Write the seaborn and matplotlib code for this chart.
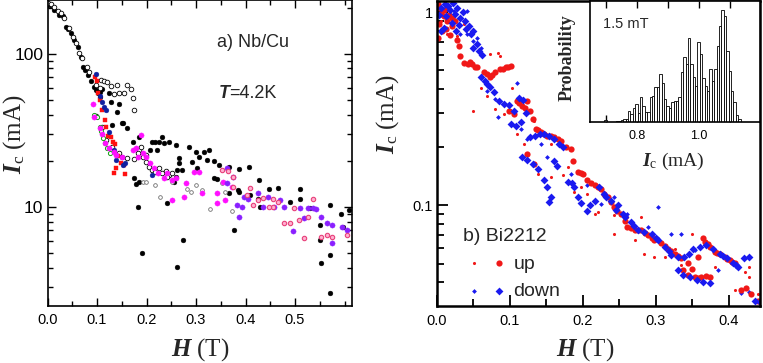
import numpy as np
import pandas as pd
import matplotlib
matplotlib.use("Agg")
import matplotlib.pyplot as plt
import seaborn as sns
from matplotlib.ticker import FixedLocator, FuncFormatter, NullFormatter
from matplotlib.legend_handler import HandlerTuple

sns.set_style("ticks")
plt.rcParams['font.family'] = ['Liberation Sans', 'DejaVu Sans']
plt.rcParams['mathtext.fontset'] = 'custom'
plt.rcParams['mathtext.rm'] = 'Liberation Serif'
plt.rcParams['mathtext.it'] = 'Liberation Serif:italic'
plt.rcParams['mathtext.bf'] = 'Liberation Serif:bold'
plt.rcParams['mathtext.bfit'] = 'Liberation Serif:italic:bold'

# ---------------- a) Nb/Cu ----------------
nb_black_H = [0.004, 0.014, 0.024, 0.031, 0.038, 0.041, 0.048, 0.054, 0.061, 0.068, 0.071, 0.076,
              0.081, 0.088, 0.094, 0.098, 0.101, 0.105, 0.111, 0.105, 0.125, 0.128, 0.145, 0.141,
              0.151, 0.131, 0.161, 0.153, 0.172, 0.185, 0.212, 0.225, 0.235, 0.246, 0.260, 0.222,
              0.208, 0.265, 0.299, 0.316, 0.306, 0.326, 0.175, 0.185, 0.178, 0.262, 0.272, 0.259,
              0.255, 0.336, 0.322, 0.285, 0.336, 0.346, 0.366, 0.386, 0.407, 0.342, 0.387, 0.385,
              0.427, 0.448, 0.366, 0.409, 0.376, 0.490, 0.510, 0.510, 0.273, 0.430, 0.530, 0.550,
              0.550, 0.552, 0.570, 0.571, 0.571, 0.592, 0.596, 0.610, 0.182, 0.190, 0.262, 0.218,
              0.232, 0.242, 0.265, 0.292, 0.302, 0.466, 0.426]
nb_black_I = [208, 193, 179, 175, 150, 144, 136, 123, 111, 95.6, 82, 78.2,
              73, 66, 60.8, 58, 55.6, 56.5, 59, 52, 55, 48.6, 47, 41.8,
              35.1, 34.2, 32.6, 35.1, 26.6, 28.7, 26.6, 26.6, 25.9, 26.6, 25.3, 23.4,
              23.4, 20.7, 22.9, 22.9, 21.2, 23.4, 15.3, 14.6, 14.1, 17.4, 17.4, 15.7,
              14.6, 15.3, 20.2, 24.7, 19.9, 18.7, 18.2, 17.6, 18.2, 15.2, 12.4, 12.9,
              14.9, 13.1, 12.2, 12.0, 7.05, 10.8, 13.1, 11.2, 6.05, 10.0, 9.75, 7.6,
              6.05, 4.27, 4.83, 10.3, 2.73, 8.9, 7.4, 9.5, 10.0, 4.95, 4.05, 26.6,
              28.7, 10.5, 19.2, 19.7, 17.8, 13.2, 11.3]

nb_open_H = [0.001, 0.007, 0.014, 0.021, 0.027, 0.034, 0.044, 0.051, 0.058, 0.064, 0.070, 0.079,
             0.084, 0.108, 0.115, 0.121, 0.128, 0.141, 0.135, 0.145, 0.155, 0.161, 0.168, 0.173,
             0.175, 0.105, 0.098, 0.098, 0.111, 0.119, 0.131, 0.145, 0.161, 0.175, 0.185, 0.192,
             0.198, 0.205, 0.212, 0.218, 0.225, 0.232, 0.239, 0.246, 0.252, 0.242, 0.188, 0.182,
             0.198]
nb_open_I = [215, 211, 203, 191, 183, 170, 147, 129, 117, 101, 93, 82,
             76, 67, 66, 65, 61.5, 62, 54.5, 55, 55.6, 62, 58.5, 51,
             43, 60, 62, 39, 33, 27.3, 24.7, 22.3, 20.7, 20.4, 23.4, 21.2,
             19.7, 18.2, 17.4, 16.9, 17.8, 16.5, 17.2, 16.1, 16.5, 15.7, 24.7, 22.3,
             21.8]

nb_grey_H = [0.218, 0.228, 0.282, 0.289, 0.299, 0.312, 0.329, 0.373, 0.192, 0.198, 0.352, 0.359, 0.252]
nb_grey_I = [13.9, 11.6, 13.0, 12.5, 13.9, 12.8, 9.6, 9.4, 14.6, 14.4, 14.2, 12.5, 14.6]

nb_green_H = [0.094, 0.099, 0.105, 0.108, 0.113, 0.117, 0.121, 0.126]
nb_green_I = [39.8, 38.4, 33, 31.3, 28, 25.9, 24, 22.3]

nb_red_H = [0.096, 0.099, 0.102, 0.105, 0.111, 0.117, 0.119, 0.122, 0.129, 0.133, 0.136, 0.142,
            0.149, 0.155, 0.138, 0.157, 0.135]
nb_red_I = [70.1, 66, 55, 50, 43, 36.8, 33, 29, 28.7, 26.6, 25.6, 21.4,
            19.2, 18.7, 17.8, 16.3, 16.7]

nb_blue_H = [0.098, 0.106, 0.111, 0.115, 0.119, 0.125, 0.135, 0.139, 0.151, 0.157, 0.153, 0.212]
nb_blue_I = [74, 52.8, 48.6, 45, 42.5, 30.9, 23.4, 20.2, 21.2, 19.4, 18.7, 16.1]

nb_magenta_H = [0.092, 0.094, 0.105, 0.110, 0.117, 0.125, 0.135, 0.139, 0.150, 0.178, 0.188, 0.192,
                0.198, 0.208, 0.215, 0.224, 0.235, 0.242, 0.252, 0.260, 0.279, 0.295, 0.306, 0.252,
                0.275, 0.312, 0.342, 0.354, 0.342, 0.358, 0.373, 0.182, 0.172]
nb_magenta_I = [47, 38.8, 32.5, 29.8, 25.9, 24, 22.9, 21.8, 21.2, 24, 29.4, 22.3,
                21.2, 19.2, 17.8, 16.5, 15.3, 16.7, 14.9, 15.3, 14.2, 16.9, 16.9, 11.1,
                11.6, 12.2, 12.2, 14.6, 10.5, 11.1, 13.5, 21.2, 23.4]

nb_purple_H = [0.362, 0.363, 0.374, 0.393, 0.386, 0.405, 0.426, 0.436, 0.446, 0.458, 0.470, 0.478,
               0.496, 0.510, 0.518, 0.527, 0.537, 0.543, 0.553, 0.564, 0.574, 0.575, 0.594, 0.604,
               0.396, 0.383]
nb_purple_I = [17.8, 14.2, 15.7, 9.9, 8.6, 11.2, 12.3, 9.9, 11.6, 9.9, 11.1, 10.0,
               6.9, 9.75, 8.4, 9.75, 9.75, 9.6, 8.6, 7.8, 7.6, 5.75, 7.4, 7.05,
               11.6, 10.3]

nb_pink_H = [0.352, 0.364, 0.375, 0.375, 0.403, 0.408, 0.436, 0.456, 0.466, 0.478, 0.490, 0.497,
             0.508, 0.518, 0.526, 0.537, 0.553, 0.564, 0.574, 0.604, 0.456, 0.416, 0.425, 0.447]
nb_pink_I = [17.4, 17.2, 15.7, 13.5, 11.9, 13.2, 11.4, 11.3, 10.8, 7.8, 7.8, 9.75,
             8.2, 6.2, 8.6, 11.2, 6.3, 6.5, 6.3, 6.5, 10.0, 10.3, 11.1, 10.0]

# ---------------- b) Bi2212 ----------------
bi_up_big_H = [0.002, 0.004, 0.009, 0.014, 0.021, 0.007, 0.030, 0.032, 0.037, 0.042, 0.048, 0.055,
               0.064, 0.080, 0.087, 0.094, 0.101, 0.073, 0.099, 0.106, 0.110, 0.117, 0.124, 0.128,
               0.132, 0.135, 0.142, 0.151, 0.161, 0.170, 0.177, 0.183, 0.193, 0.200, 0.206, 0.216,
               0.225, 0.234, 0.243, 0.252, 0.261, 0.271, 0.280, 0.289, 0.298, 0.307, 0.317, 0.326,
               0.335, 0.344, 0.358, 0.367, 0.374, 0.381, 0.388, 0.394, 0.401, 0.408, 0.337, 0.344,
               0.353, 0.362, 0.374, 0.417, 0.424, 0.440, 0.124, 0.133, 0.005, 0.014, 0.002, 0.010,
               0.016, 0.020, 0.003, 0.012, 0.025, 0.018,
               0.027, 0.045, 0.052, 0.068, 0.076, 0.090, 0.097, 0.113, 0.120, 0.138, 0.147, 0.156,
               0.166, 0.187, 0.197, 0.211, 0.221, 0.229, 0.238, 0.247, 0.257, 0.266, 0.276, 0.285,
               0.294, 0.312, 0.321, 0.330, 0.349, 0.365, 0.371, 0.384, 0.397, 0.404, 0.357, 0.368,
               0.430]
bi_up_big_I = [0.737, 1.05, 0.954, 0.899, 0.847, 0.798, 0.668, 0.593, 0.548, 0.537, 0.537, 0.517,
               0.487, 0.487, 0.506, 0.517, 0.523, 0.459, 0.309, 0.297, 0.348, 0.327, 0.348, 0.309,
               0.280, 0.249, 0.239, 0.229, 0.225, 0.216, 0.200, 0.196, 0.149, 0.146, 0.135, 0.127,
               0.122, 0.110, 0.098, 0.090, 0.0774, 0.0745, 0.0745, 0.0701, 0.0661, 0.0636, 0.0598, 0.0564,
               0.0532, 0.0501, 0.0543, 0.0646, 0.0611, 0.0576, 0.0564, 0.0543, 0.0521, 0.0501, 0.0462, 0.0435,
               0.0426, 0.0426, 0.0426, 0.0366, 0.0372, 0.0319, 0.185, 0.164, 0.973, 1.05, 1.10, 1.02,
               0.96, 0.93, 0.87, 0.82, 0.90, 0.76,
               0.72, 0.55, 0.52, 0.48, 0.47, 0.51, 0.52, 0.34, 0.32, 0.245, 0.235, 0.228,
               0.22, 0.17, 0.147, 0.13, 0.125, 0.115, 0.104, 0.094, 0.083, 0.076, 0.0745, 0.072,
               0.068, 0.062, 0.058, 0.055, 0.047, 0.068, 0.063, 0.057, 0.053, 0.051, 0.042, 0.043,
               0.035]

bi_up_small_H = [0.073, 0.083, 0.087, 0.103, 0.110, 0.119, 0.138, 0.156, 0.172, 0.188, 0.206, 0.220,
                 0.243, 0.261, 0.271, 0.284, 0.298, 0.312, 0.326, 0.335, 0.381, 0.408, 0.427, 0.427,
                 0.440, 0.005, 0.014, 0.028, 0.037, 0.060, 0.050, 0.069, 0.080, 0.092, 0.133, 0.156,
                 0.179, 0.197, 0.216, 0.243, 0.280, 0.349, 0.422]
bi_up_small_I = [0.605, 0.617, 0.593, 0.407, 0.234, 0.208, 0.146, 0.140, 0.143, 0.117, 0.115, 0.0926,
                 0.0889, 0.087, 0.0661, 0.0564, 0.0543, 0.0543, 0.0598, 0.0492, 0.0482, 0.0366, 0.0482, 0.0426,
                 0.0350, 0.899, 0.767, 0.752, 0.864, 0.407, 0.309, 0.369, 0.315, 0.297, 0.274, 0.208,
                 0.158, 0.125, 0.0903, 0.0715, 0.087, 0.0715, 0.0454]

bi_down_big_H = [0.005, 0.011, 0.018, 0.025, 0.032, 0.039, 0.044, 0.050, 0.009, 0.055, 0.060, 0.069,
                 0.078, 0.085, 0.092, 0.099, 0.106, 0.101, 0.108, 0.115, 0.128, 0.134, 0.141, 0.147,
                 0.154, 0.161, 0.167, 0.173, 0.117, 0.124, 0.131, 0.138, 0.147, 0.151, 0.156, 0.154,
                 0.179, 0.188, 0.197, 0.206, 0.216, 0.222, 0.229, 0.239, 0.248, 0.257, 0.266, 0.275,
                 0.284, 0.294, 0.303, 0.312, 0.321, 0.330, 0.339, 0.351, 0.360, 0.369, 0.378, 0.388,
                 0.397, 0.406, 0.413, 0.420, 0.427, 0.330, 0.337, 0.346, 0.356, 0.365, 0.374, 0.436,
                 0.443, 0.003, 0.015, 0.022, 0.028, 0.036, 0.020, 0.030, 0.046, 0.050,
                 0.057, 0.062, 0.066, 0.072, 0.112, 0.118, 0.122, 0.160, 0.165, 0.185, 0.193, 0.210,
                 0.232, 0.245, 0.255, 0.270, 0.300, 0.318, 0.345, 0.392, 0.410, 0.005, 0.012, 0.026,
                 0.040]
bi_down_big_I = [1.05, 1.10, 1.03, 0.973, 0.935, 0.899, 0.847, 0.798, 0.830, 0.681, 0.459, 0.424,
                 0.384, 0.348, 0.334, 0.331, 0.309, 0.264, 0.258, 0.269, 0.225, 0.229, 0.234, 0.234,
                 0.229, 0.221, 0.208, 0.200, 0.178, 0.171, 0.164, 0.155, 0.135, 0.125, 0.110, 0.104,
                 0.132, 0.125, 0.1025, 0.094, 0.106, 0.125, 0.115, 0.106, 0.100, 0.087, 0.082, 0.0745,
                 0.0730, 0.0715, 0.0661, 0.0611, 0.0553, 0.0543, 0.0543, 0.0598, 0.0611, 0.0622, 0.0598, 0.0564,
                 0.0532, 0.0501, 0.0482, 0.0532, 0.0543, 0.0462, 0.0435, 0.0425, 0.0412, 0.0404, 0.0396, 0.0319,
                 0.0315, 0.97, 1.07, 1.12, 1.05, 1.00, 0.88, 0.86, 0.767, 0.655,
                 0.63, 0.60, 0.44, 0.41, 0.36, 0.35, 0.30, 0.17, 0.16, 0.13, 0.11, 0.10,
                 0.11, 0.095, 0.09, 0.078, 0.068, 0.058, 0.056, 0.055, 0.049, 0.80, 0.95, 0.80,
                 0.82]

bi_down_small_H = [0.032, 0.041, 0.055, 0.060, 0.064, 0.069, 0.080, 0.083, 0.101, 0.110, 0.115, 0.124,
                   0.142, 0.151, 0.165, 0.183, 0.206, 0.225, 0.243, 0.261, 0.289, 0.303, 0.321, 0.335,
                   0.353, 0.385, 0.417, 0.427, 0.023, 0.041, 0.014, 0.050]
bi_down_small_I = [0.767, 0.767, 0.737, 0.655, 0.441, 0.392, 0.355, 0.285, 0.309, 0.432, 0.249, 0.221,
                   0.208, 0.178, 0.158, 0.146, 0.127, 0.102, 0.110, 0.0903, 0.0774, 0.098, 0.0715, 0.0715,
                   0.0587, 0.0462, 0.0351, 0.0358, 1.01, 1.01, 0.935, 0.709]

# inset histogram at 1.5 mT (bin heights, arbitrary units)
hist_start = 0.6945
hist_width = 0.0077
hist_heights = [0.5, 0, 0, 0, 0, 0.2, 0.4, 0.7, 0.8, 0.9, 3.2, 2.5, 4.3, 5.4, 2.7, 7.7, 4.7, 3.0,
                2.9, 7.6, 7.8, 10.5, 10.7, 14.5, 11.9, 7.0, 4.9, 4.3, 6.1, 6.2, 6.2, 7.5, 15.0, 19.7,
                17.5, 25.5, 17.5, 13.7, 11.0, 24.3, 20.5, 13.3, 11.0, 9.5, 16.0, 12.5, 16.0, 23.0, 29.0,
                33.8, 32.0, 21.5, 15.5, 9.5, 6.0, 2.0, 0.8]

red = '#f01818'
blue = '#1a1af0'

fig = plt.figure(figsize=(7.63, 3.63), dpi=100)
ax1 = fig.add_axes([0.0623, 0.157, 0.399, 0.843])
ax2 = fig.add_axes([0.5727, 0.157, 0.4233, 0.840])
axin = fig.add_axes([0.7733, 0.664, 0.2228, 0.333])

# panel a
sns.scatterplot(x=nb_black_H, y=nb_black_I, ax=ax1, s=12, marker='o', facecolor='black', edgecolor='black', linewidth=0.3, legend=False)
sns.scatterplot(x=nb_open_H, y=nb_open_I, ax=ax1, s=11, marker='o', facecolor='white', edgecolor='black', linewidth=0.6, legend=False)
sns.scatterplot(x=nb_grey_H, y=nb_grey_I, ax=ax1, s=7, marker='o', facecolor='white', edgecolor='#707070', linewidth=0.6, legend=False)
sns.scatterplot(x=nb_green_H, y=nb_green_I, ax=ax1, s=9, marker='o', facecolor='white', edgecolor='#10a010', linewidth=0.7, legend=False)
sns.scatterplot(x=nb_red_H, y=nb_red_I, ax=ax1, s=11, marker='s', facecolor='#ff1010', edgecolor='#ff1010', linewidth=0.3, legend=False)
sns.scatterplot(x=nb_blue_H, y=nb_blue_I, ax=ax1, s=12, marker='o', facecolor='#1020a0', edgecolor='#1020a0', linewidth=0.3, legend=False)
sns.scatterplot(x=nb_magenta_H, y=nb_magenta_I, ax=ax1, s=14, marker='o', facecolor='#ff10ff', edgecolor='#ff10ff', linewidth=0.3, legend=False)
sns.scatterplot(x=nb_purple_H, y=nb_purple_I, ax=ax1, s=14, marker='o', facecolor='#8a20ff', edgecolor='#8a20ff', linewidth=0.3, legend=False)
sns.scatterplot(x=nb_pink_H, y=nb_pink_I, ax=ax1, s=10, marker='o', facecolor='#ffb0d0', edgecolor='#e8407a', linewidth=0.8, legend=False)

ax1.set_yscale('log')
ax1.set_xlim(0, 0.615)
ax1.set_ylim(2.244, 224)
ax1.xaxis.set_major_locator(FixedLocator([0.0, 0.1, 0.2, 0.3, 0.4, 0.5]))
ax1.xaxis.set_minor_locator(FixedLocator([0.05, 0.15, 0.25, 0.35, 0.45, 0.55, 0.6]))
ax1.xaxis.set_major_formatter(FuncFormatter(lambda v, _: f'{v:.1f}'))
ax1.yaxis.set_major_locator(FixedLocator([10, 100]))
ax1.yaxis.set_minor_locator(FixedLocator([3, 4, 5, 6, 7, 8, 9, 20, 30, 40, 50, 60, 70, 80, 90, 200]))
ax1.yaxis.set_major_formatter(FuncFormatter(lambda v, _: f'{v:g}'))
ax1.yaxis.set_minor_formatter(NullFormatter())
ax1.tick_params(which='both', direction='in', top=True, right=True, width=1.0, colors='black')
ax1.tick_params(which='major', length=6)
ax1.tick_params(which='minor', length=3.5)
ax1.tick_params(axis='x', labelsize=10.5, pad=5)
ax1.tick_params(axis='y', labelsize=12.5, pad=3)
for sp in ax1.spines.values():
    sp.set_linewidth(1.2)
    sp.set_color('black')
ax1.set_xlabel(r'$\mathbfit{H}\ \mathrm{(T)}$', fontsize=18)
ax1.set_ylabel(r'$\mathbfit{I}_{\mathrm{c}}\ \mathrm{(mA)}$', fontsize=18)
ax1.xaxis.set_label_coords(0.5, -0.099)
ax1.yaxis.set_label_coords(-0.064, 0.56)
ax1.text(0.556, 0.847, 'a) Nb/Cu', transform=ax1.transAxes, fontsize=13, ha='left', va='baseline')
t1 = ax1.text(0.561, 0.68, 'T', transform=ax1.transAxes, fontsize=13, ha='left', va='baseline',
              fontweight='bold', fontstyle='italic')
ax1.annotate('=4.2K', xy=(1, 0), xycoords=t1, fontsize=13, ha='left', va='bottom')

# panel b
sns.scatterplot(x=bi_up_small_H, y=bi_up_small_I, ax=ax2, s=5, marker='o', facecolor=red, edgecolor=red, linewidth=0, legend=False)
sns.scatterplot(x=bi_down_small_H, y=bi_down_small_I, ax=ax2, s=6, marker='D', facecolor=blue, edgecolor=blue, linewidth=0, legend=False)
sns.scatterplot(x=bi_up_big_H, y=bi_up_big_I, ax=ax2, s=20, marker='o', facecolor=red, edgecolor=red, linewidth=0, legend=False)
sns.scatterplot(x=bi_down_big_H, y=bi_down_big_I, ax=ax2, s=16, marker='D', facecolor=blue, edgecolor=blue, linewidth=0, legend=False)
c_up_s, c_down_s, c_up_b, c_down_b = ax2.collections[:4]

ax2.set_yscale('log')
ax2.set_xlim(0, 0.4425)
ax2.set_ylim(0.0302, 1.139)
ax2.xaxis.set_major_locator(FixedLocator([0.0, 0.1, 0.2, 0.3, 0.4]))
ax2.xaxis.set_minor_locator(FixedLocator([0.05, 0.15, 0.25, 0.35]))
ax2.xaxis.set_major_formatter(FuncFormatter(lambda v, _: f'{v:.1f}'))
ax2.yaxis.set_major_locator(FixedLocator([0.1, 1]))
ax2.yaxis.set_minor_locator(FixedLocator([0.04, 0.05, 0.06, 0.07, 0.08, 0.09, 0.2, 0.3, 0.4, 0.5, 0.6, 0.7, 0.8, 0.9]))
ax2.yaxis.set_major_formatter(FuncFormatter(lambda v, _: f'{v:g}'))
ax2.yaxis.set_minor_formatter(NullFormatter())
ax2.tick_params(which='both', direction='in', width=1.3, colors='black')
ax2.tick_params(which='major', length=8)
ax2.tick_params(which='minor', length=5)
ax2.tick_params(axis='x', labelsize=10.5, pad=6)
ax2.tick_params(axis='y', labelsize=10.5, pad=3)
for sp in ax2.spines.values():
    sp.set_linewidth(1.8)
    sp.set_color('black')
ax2.set_xlabel(r'$\mathbfit{H}\ \mathrm{(T)}$', fontsize=18)
ax2.set_ylabel(r'$\mathbfit{I}_{\mathrm{c}}\ \mathrm{(mA)}$', fontsize=18)
ax2.xaxis.set_label_coords(0.458, -0.100)
ax2.yaxis.set_label_coords(-0.111, 0.63)

leg = ax2.legend([(c_up_s, c_up_b), (c_down_s, c_down_b)], ['up', 'down'],
                 handler_map={tuple: HandlerTuple(ndivide=None, pad=0.15)},
                 title='b) Bi2212', loc='upper left', bbox_to_anchor=(0.08, 0.255),
                 frameon=False, fontsize=14, title_fontsize=14, alignment='left',
                 handlelength=2.4, handletextpad=0.2, labelspacing=0.5, borderpad=0,
                 borderaxespad=0, scatterpoints=1)

# inset histogram
hist_df = pd.DataFrame({'Ic': hist_start + hist_width * (np.arange(len(hist_heights)) + 0.5),
                        'p': hist_heights})
sns.histplot(data=hist_df, x='Ic', weights='p', binwidth=hist_width,
             binrange=(hist_start, hist_start + hist_width * len(hist_heights)),
             ax=axin, color='white', edgecolor='black', linewidth=0.6, alpha=1)
axin.set_facecolor('white')
axin.set_xlim(0.649, 1.196)
axin.set_ylim(0, 36.6)
axin.xaxis.set_major_locator(FixedLocator([0.8, 1.0]))
axin.xaxis.set_minor_locator(FixedLocator([0.7, 0.9, 1.1]))
axin.xaxis.set_major_formatter(FuncFormatter(lambda v, _: f'{v:.1f}'))
axin.set_yticks([])
axin.tick_params(which='both', direction='in', top=True, width=1.0, colors='black')
axin.tick_params(which='major', length=5)
axin.tick_params(which='minor', length=5)
axin.tick_params(axis='x', labelsize=9, pad=6)
for sp in axin.spines.values():
    sp.set_linewidth(1.2)
    sp.set_color('black')
axin.set_xlabel(r'$\mathbfit{I}_{\mathrm{c}}\ \mathrm{(mA)}$', fontsize=14)
axin.set_ylabel('Probability', fontsize=13, fontweight='bold', family=['Liberation Serif'])
axin.xaxis.set_label_coords(0.49, -0.24)
axin.yaxis.set_label_coords(-0.085, 0.53)
axin.text(0.075, 0.78, '1.5 mT', transform=axin.transAxes, fontsize=10.5, ha='left', va='baseline')

fig.savefig('out.png', dpi=100)
